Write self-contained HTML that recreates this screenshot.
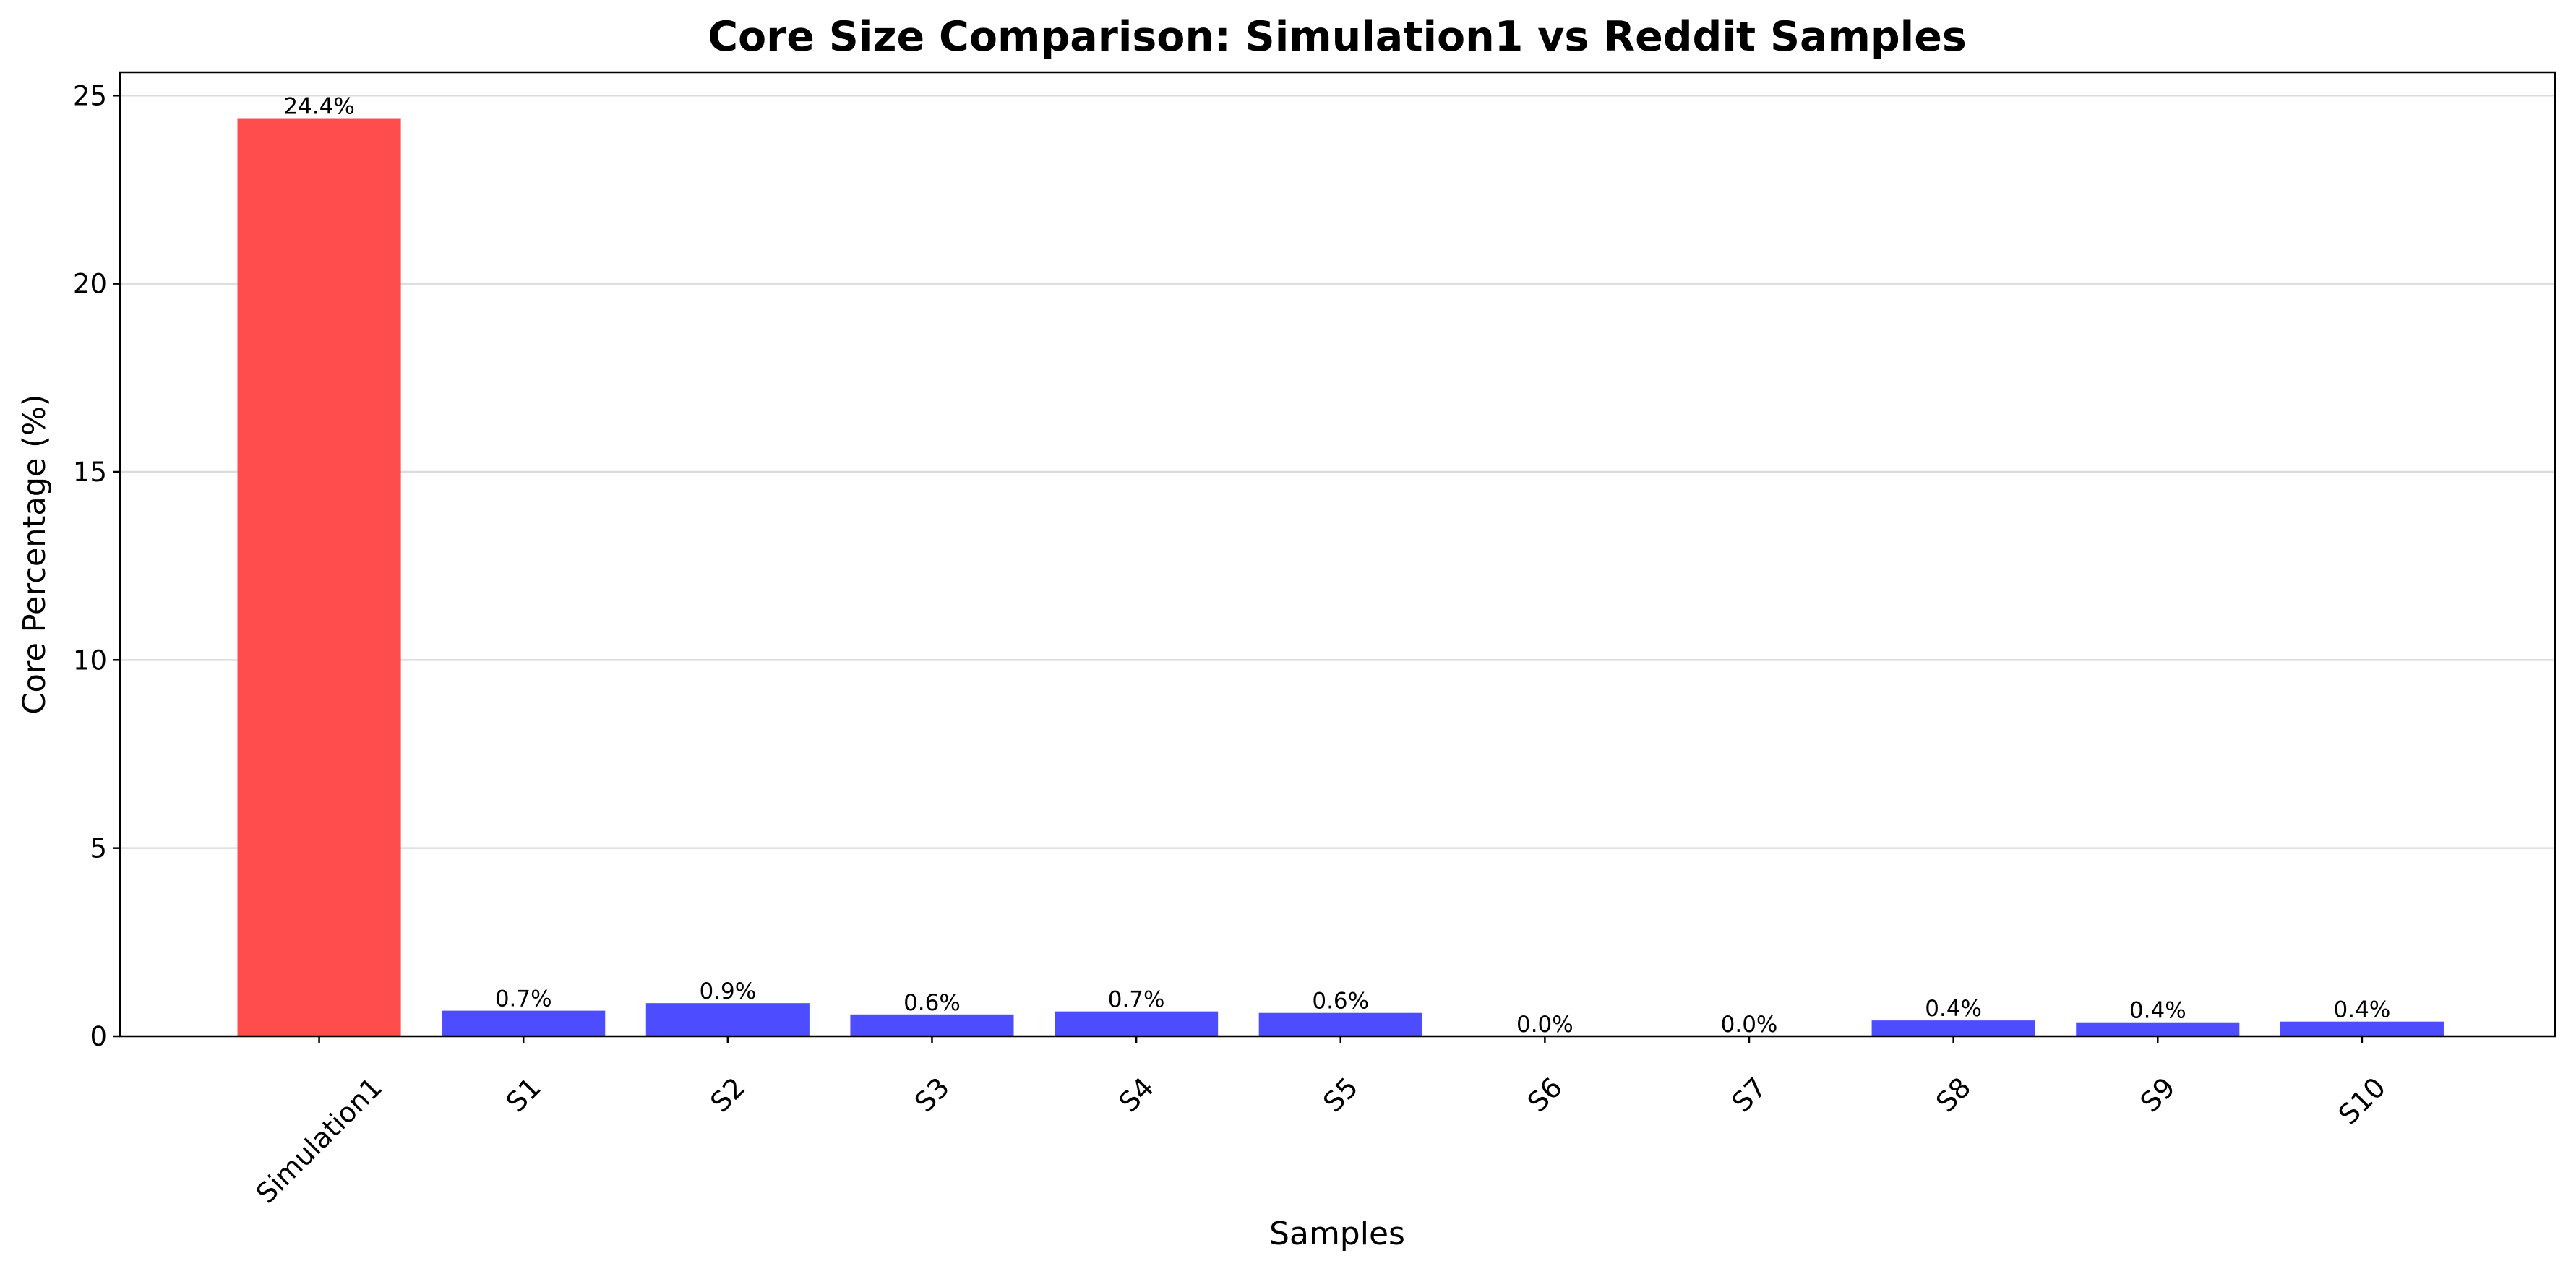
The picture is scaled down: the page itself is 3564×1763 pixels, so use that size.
<!DOCTYPE html>
<html><head><meta charset="utf-8"><style>
html,body{margin:0;padding:0;background:#fff;}
svg{display:block;font-family:"DejaVu Sans","Liberation Sans",sans-serif;}
</style></head><body>
<svg id="chart" width="3564" height="1763" viewBox="0 0 3564 1763" xmlns="http://www.w3.org/2000/svg">
<rect width="3564" height="1763" fill="#fff"/>
<text x="1850" y="70" text-anchor="middle" font-size="57" font-weight="bold">Core Size Comparison: Simulation1 vs Reddit Samples</text>
<g id="grid"></g><g id="bars"></g><g id="labels"></g><g id="axes"></g>
<text transform="translate(62,767) rotate(-90)" text-anchor="middle" font-size="43">Core Percentage (%)</text>
<text x="1850" y="1722" text-anchor="middle" font-size="44">Samples</text>
</svg>
<script>
const categories = ["Simulation1","S1","S2","S3","S4","S5","S6","S7","S8","S9","S10"];
const values = [24.4,0.68,0.88,0.58,0.66,0.62,0,0,0.42,0.37,0.39];
const yTicks = [0,5,10,15,20,25];
const NS="http://www.w3.org/2000/svg";
const L=166,R=3535,T=100,B=1434;
const xmin=-0.975,xmax=10.945,ymax=Math.max(...values)*1.05;
const xs=i=>L+(i-xmin)/(xmax-xmin)*(R-L);
const ys=v=>B-v/ymax*(B-T);
const bw=0.8*(R-L)/(xmax-xmin);
function mk(tag,attrs,parent,txt){const e=document.createElementNS(NS,tag);for(const k in attrs)e.setAttribute(k,attrs[k]);if(txt!==undefined)e.textContent=txt;document.getElementById(parent).appendChild(e);return e;}
yTicks.forEach(t=>{
  const g=mk('line',{x1:L,x2:R,y1:ys(t),y2:ys(t),stroke:'#dcdcdc','stroke-width':2.5},'grid');
  
  
  const tk=mk('line',{x1:L-10,x2:L,y1:ys(t),y2:ys(t),stroke:'#000','stroke-width':2.5},'axes');
  
  
  const tl=mk('text',{x:L-18,y:ys(t)+13,'text-anchor':'end','font-size':37},'axes',String(t));
  
  
});
categories.forEach((c,i)=>{
  const x=xs(i),v=values[i];
  const b=mk('rect',{x:x-bw/2,y:ys(v),width:bw,height:B-ys(v),fill:i===0?'#ff4d4d':'#4d4dff'},'bars');
  
  
  const vl=mk('text',{x:x,y:ys(v)-6,'text-anchor':'middle','font-size':31},'labels',v.toFixed(1)+'%');
  
  
  const tk=mk('line',{x1:x,x2:x,y1:B,y2:B+10,stroke:'#000','stroke-width':2.5},'axes');
  
  
  const xl=mk('text',{x:0,y:0,'text-anchor':'middle','dominant-baseline':'central','font-size':38},'axes',c);
  
  
  const w=xl.getComputedTextLength();
  const h=(w+28)*0.7071;
  xl.setAttribute('transform',`translate(${x},${B+54+h/2}) rotate(-45)`);
});
const fr=mk('rect',{x:L,y:T,width:R-L,height:B-T,fill:'none',stroke:'#000','stroke-width':2.5},'axes');


</script>
</body></html>
